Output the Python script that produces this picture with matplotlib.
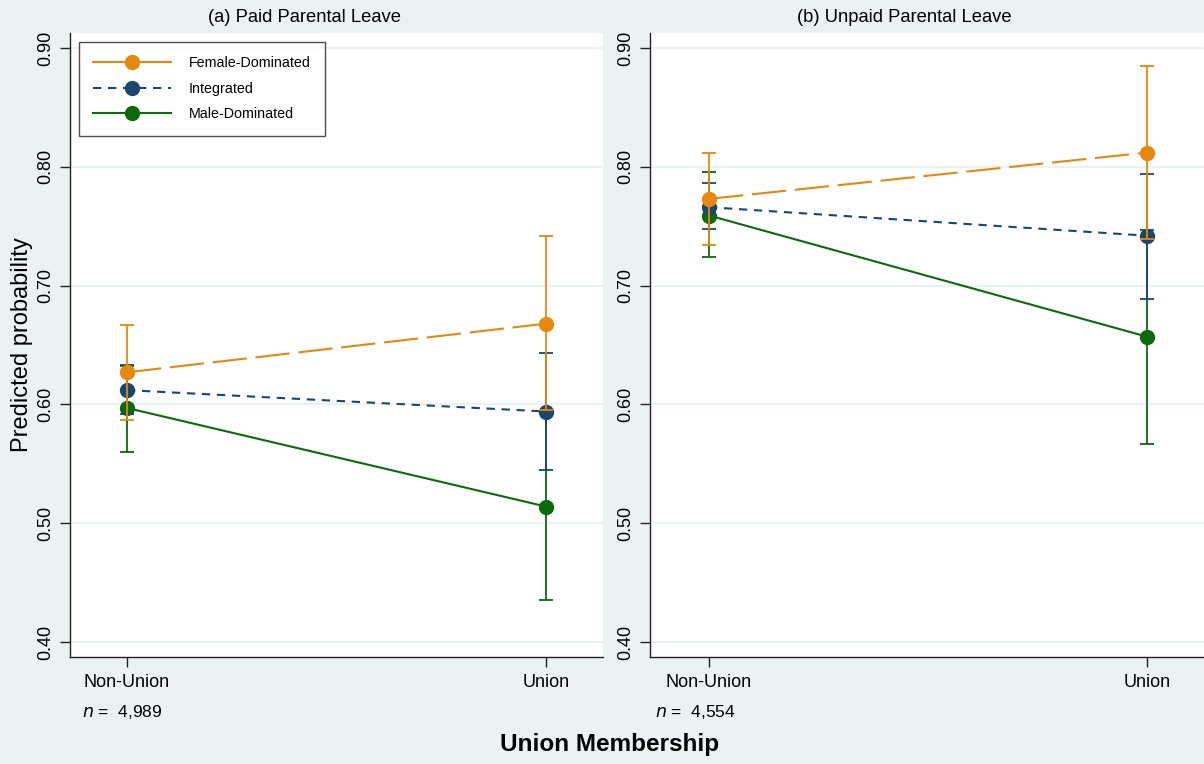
import matplotlib
matplotlib.use("Agg")
import matplotlib.pyplot as plt
from matplotlib.lines import Line2D

plt.rcParams['font.family'] = ['Liberation Sans', 'DejaVu Sans']

# ---- data ----
categories = ["Non-Union", "Union"]
series = ["Female-Dominated", "Integrated", "Male-Dominated"]
panel_titles = ["(a) Paid Parental Leave", "(b) Unpaid Parental Leave"]
panel_n = ["4,989", "4,554"]
yticks = [0.40, 0.50, 0.60, 0.70, 0.80, 0.90]

# Panel (a) Paid
paid_est = {"Female-Dominated": [0.627, 0.668],
            "Integrated":       [0.612, 0.594],
            "Male-Dominated":   [0.597, 0.514]}
paid_lo = {"Female-Dominated": [0.587, 0.595],
           "Integrated":       [0.592, 0.545],
           "Male-Dominated":   [0.560, 0.435]}
paid_hi = {"Female-Dominated": [0.667, 0.742],
           "Integrated":       [0.632, 0.643],
           "Male-Dominated":   [0.633, 0.593]}
# Panel (b) Unpaid
unpaid_est = {"Female-Dominated": [0.773, 0.812],
              "Integrated":       [0.766, 0.742],
              "Male-Dominated":   [0.759, 0.657]}
unpaid_lo = {"Female-Dominated": [0.734, 0.739],
             "Integrated":       [0.748, 0.689],
             "Male-Dominated":   [0.724, 0.567]}
unpaid_hi = {"Female-Dominated": [0.812, 0.885],
             "Integrated":       [0.786, 0.794],
             "Male-Dominated":   [0.796, 0.747]}

# ---- styles ----
BG = "#EAF2F3"
colors = {"Female-Dominated": "#E8870E", "Integrated": "#1A476F", "Male-Dominated": "#0B6A0B"}
dashes = {"Female-Dominated": (0, (16.5, 4.2)), "Integrated": (0, (4.0, 3.2)), "Male-Dominated": "-"}
zorders = {"Female-Dominated": 6, "Integrated": 5, "Male-Dominated": 4}

fig = plt.figure(figsize=(12.04, 7.64), dpi=100, facecolor=BG)

W, H = 1204, 764
def fx(px): return px / W
def fy(py): return 1 - py / H

ax_a = fig.add_axes([fx(70), fy(657), (603 - 70) / W, (657 - 33) / H])
ax_b = fig.add_axes([fx(650), fy(657), (1207 - 650) / W, (657 - 33) / H])

panels = [(ax_a, paid_est, paid_lo, paid_hi, (-0.136, 1.136)),
          (ax_b, unpaid_est, unpaid_lo, unpaid_hi, (-0.1347, 1.137))]
title_x = [305, 904]
n_x = [82, 655]

xpos = list(range(len(categories)))
for i, (ax, est, lo, hi, xl) in enumerate(panels):
    ax.set_facecolor("white")
    for s in ["Male-Dominated", "Integrated", "Female-Dominated"]:
        c = colors[s]
        z = zorders[s]
        yerr = [[e - l for e, l in zip(est[s], lo[s])], [h - e for e, h in zip(est[s], hi[s])]]
        ax.errorbar(xpos, est[s], yerr=yerr, fmt="none", ecolor=c, elinewidth=1.3,
                    capsize=5, capthick=1.3, zorder=z)
        ax.plot(xpos, est[s], color=c, linestyle=dashes[s], linewidth=1.5, zorder=z + 0.1)
        ax.plot(xpos, est[s], linestyle="none", marker="o", markersize=10,
                color=c, zorder=z + 0.2)
    ax.set_xlim(*xl)
    ax.set_ylim(0.40 - 15 / 1188, 0.90 + 15 / 1188)
    ax.set_yticks(yticks)
    ax.set_yticklabels([f"{v:.2f}" for v in yticks], rotation=90, va="center", fontsize=13)
    ax.set_xticks(xpos)
    ax.set_xticklabels(categories, fontsize=13)
    ax.tick_params(axis="both", length=7, width=1, color="#222222")
    ax.tick_params(axis="y", pad=4)
    ax.tick_params(axis="x", pad=5)
    ax.grid(axis="y", color=BG, linewidth=1.6, zorder=0)
    ax.set_axisbelow(True)
    for sp in ["top", "right"]:
        ax.spines[sp].set_visible(False)
    for sp in ["left", "bottom"]:
        ax.spines[sp].set_color("#222222")
        ax.spines[sp].set_linewidth(1.0)
    fig.text(fx(title_x[i]), fy(18), panel_titles[i], fontsize=13.2, va="center", ha="center")
    fig.text(fx(n_x[i]), fy(712), r"$n$" + " =  " + panel_n[i], fontsize=12.5,
             va="center", ha="left")

# axis labels
fig.text(fx(22), fy(345), "Predicted probability", rotation=90, fontsize=17,
         va="center", ha="center")
fig.text(fx(610), fy(745), "Union Membership", fontsize=17.5, fontweight="bold",
         va="center", ha="center")

# legend
handles = [Line2D([], [], color=colors[s], linestyle=("-" if s != "Integrated" else (0, (4.0, 3.2))),
                  linewidth=1.5, marker="o", markersize=10) for s in series]
leg = ax_a.legend(handles, series, loc="upper left", bbox_to_anchor=(fx(79), fy(42)),
                  bbox_transform=fig.transFigure, fontsize=10.3, frameon=True, fancybox=False,
                  edgecolor="#222222", handlelength=5.4, handletextpad=1.25,
                  borderpad=1.0, labelspacing=0.8, borderaxespad=0)
leg.get_frame().set_linewidth(1.0)

fig.savefig("out.png", dpi=100, facecolor=BG)
